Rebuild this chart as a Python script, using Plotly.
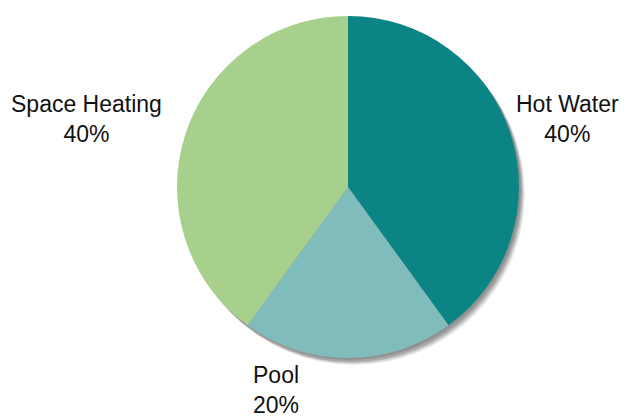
import plotly.graph_objects as go

# Share of heat demand by end use
categories = ["Hot Water", "Pool", "Space Heating"]
shares = [40, 20, 40]
colors = ["#0a8484", "#80bcbc", "#a8d08d"]

W, H = 636, 417
cx, cy, r = 348, 187, 171  # pie centre and radius in pixels


def dom(dx=0, dy=0):
    x0 = (cx - r + dx) / W
    x1 = (cx + r + dx) / W
    y0 = (H - (cy + r + dy)) / H
    y1 = (H - (cy - r + dy)) / H
    return dict(x=[x0, x1], y=[y0, y1])


fig = go.Figure()

# soft drop shadow under the pie (several faint offset discs)
for dx, dy, a in [(6, 7, 0.07), (5, 6, 0.09), (4, 5, 0.11), (3, 4, 0.13), (2, 2, 0.12)]:
    fig.add_trace(go.Pie(
        values=[1], labels=["shadow"], domain=dom(dx, dy),
        marker=dict(colors=[f"rgba(0,0,0,{a})"], line=dict(width=0)),
        textinfo="none", hoverinfo="skip", showlegend=False, sort=False,
    ))

fig.add_trace(go.Pie(
    labels=categories, values=shares, domain=dom(),
    marker=dict(colors=colors, line=dict(width=0)),
    sort=False, direction="clockwise", rotation=0,
    textinfo="none", showlegend=False,
))

# outside labels
label_pos = {"Hot Water": (567, 119), "Pool": (276, 390), "Space Heating": (86, 119)}
total = sum(shares)
for name, val in zip(categories, shares):
    px, py = label_pos[name]
    fig.add_annotation(
        x=px / W, y=(H - py) / H, xref="paper", yref="paper",
        text=f"{name}<br>{round(val / total * 100)}%",
        showarrow=False, xanchor="center", yanchor="middle",
        font=dict(family="Liberation Sans, Arial, sans-serif", size=23, color="#111111"),
    )

fig.update_layout(
    width=W, height=H,
    margin=dict(l=0, r=0, t=0, b=0),
    paper_bgcolor="white", plot_bgcolor="white",
)

fig.write_html("out.html")
